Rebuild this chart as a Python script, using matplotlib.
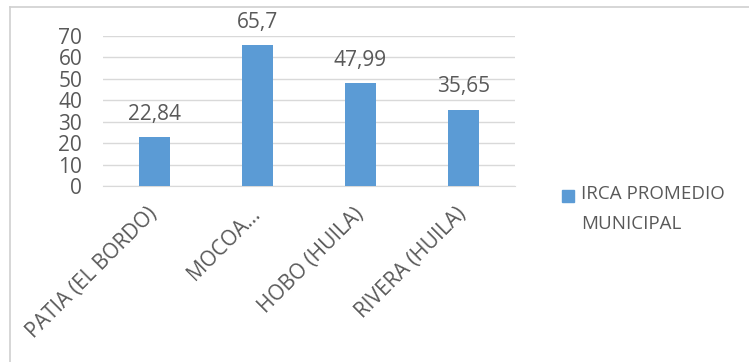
import matplotlib.pyplot as plt
from matplotlib.patches import Rectangle
from matplotlib.lines import Line2D

# data
municipios = ['PATIA (EL BORDO)', 'MOCOA…', 'HOBO (HUILA)', 'RIVERA (HUILA)']
irca = [22.84, 65.7, 47.99, 35.65]
etiquetas = ['22,84', '65,7', '47,99', '35,65']
yticks = [0, 10, 20, 30, 40, 50, 60, 70]
serie = 'IRCA PROMEDIO\nMUNICIPAL'

plt.rcParams['font.family'] = ['Open Sans', 'DejaVu Sans']
gris = '#595959'
azul = '#5B9BD5'
fs = 15

fig = plt.figure(figsize=(7.49, 3.62), dpi=100)
ax = fig.add_axes([0.1375, 0.4862, 0.5501, 0.4144])

x = range(len(municipios))
ax.bar(x, irca, width=0.31, color=azul, zorder=3)

for xi, v, t in zip(x, irca, etiquetas):
    ax.annotate(t, (xi, v), xytext=(0, 9), textcoords='offset points',
                ha='center', va='bottom', fontsize=fs, color=gris)

ax.set_xlim(-0.5, len(municipios) - 0.5)
ax.set_ylim(0, 70)
ax.set_yticks(yticks)
ax.set_yticklabels([str(v) for v in yticks], fontsize=fs, color=gris)
ax.set_xticks(list(x))
ax.set_xticklabels(municipios, rotation=45, ha='right', va='center',
                   rotation_mode='anchor', fontsize=fs, color=gris)
ax.tick_params(length=0)
ax.tick_params(axis='y', pad=15)
ax.tick_params(axis='x', pad=18)
ax.grid(axis='y', color='#D9D9D9', lw=1, zorder=0)
for s in ['top', 'right', 'left']:
    ax.spines[s].set_visible(False)
ax.spines['bottom'].set_color('#D9D9D9')

# legend (square aligned with first line, like the original)
fig.add_artist(Rectangle((562 / 749, 1 - 202 / 362), 12 / 749, 12 / 362,
                         transform=fig.transFigure, color=azul))
fig.text(581 / 749, 1 - 185 / 362, serie, ha='left', va='top',
         fontsize=13.5, color=gris, linespacing=1.85)

# chart border (top and left)
fig.add_artist(Line2D([0.014, 1.0], [0.981, 0.981], color='#D0D0D0', lw=1.2))
fig.add_artist(Line2D([0.014, 0.014], [0.0, 0.981], color='#D0D0D0', lw=1.2))

fig.savefig('out.png', dpi=100)
